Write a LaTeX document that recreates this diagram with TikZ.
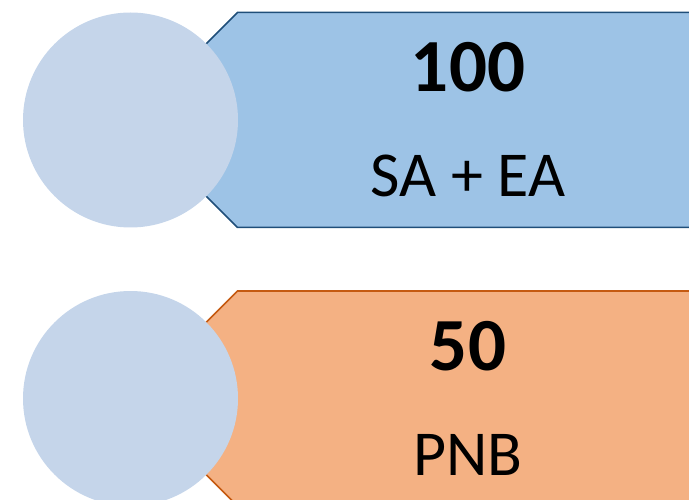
\documentclass[tikz,border=0pt]{standalone}
\usepackage{fontspec}
\setmainfont{Carlito}
\definecolor{bannerblue}{HTML}{9DC3E6}
\definecolor{edgeblue}{HTML}{1F4E79}
\definecolor{bannerorange}{HTML}{F4B183}
\definecolor{edgeorange}{HTML}{C55A11}
\definecolor{discfill}{HTML}{C5D5EA}
\begin{document}
\begin{tikzpicture}
[x=1pt,y=-1pt,
  bannerdecorate/.style={line width=1.5pt,line join=miter},%
  discdecorate/.style={shape=circle,inner sep=0pt,minimum size=215pt,fill=discfill},%
  numdecorate/.style={anchor=base,inner sep=0pt,font=\bfseries\fontsize{75}{75}\selectfont},%
  labeldecorate/.style={anchor=base,inner sep=0pt,font=\fontsize{64}{64}\selectfont}]
\useasboundingbox (0,0) rectangle (689,500);
\clip (0,0) rectangle (689,500);
%% banners, discs and texts
\foreach \row/\y/\fillc/\linec/\num/\lab in {1/120/bannerblue/edgeblue/100/SA + EA,
  2/398.5/bannerorange/edgeorange/50/PNB} {
  \draw[bannerdecorate,fill=\fillc,draw=\linec] (130,\y) -- (237.5,\y-107.5)
    -- (720,\y-107.5) -- (720,\y+107.5) -- (237.5,\y+107.5) -- cycle;
  \node (disc\row) at (130.5,\y) [discdecorate] {};
  \node (num\row) at (468,\y-28.5) [numdecorate] {\num};
  \node (lab\row) at (468,\y+76.5) [labeldecorate] {\lab};
}
\end{tikzpicture}
\end{document}
